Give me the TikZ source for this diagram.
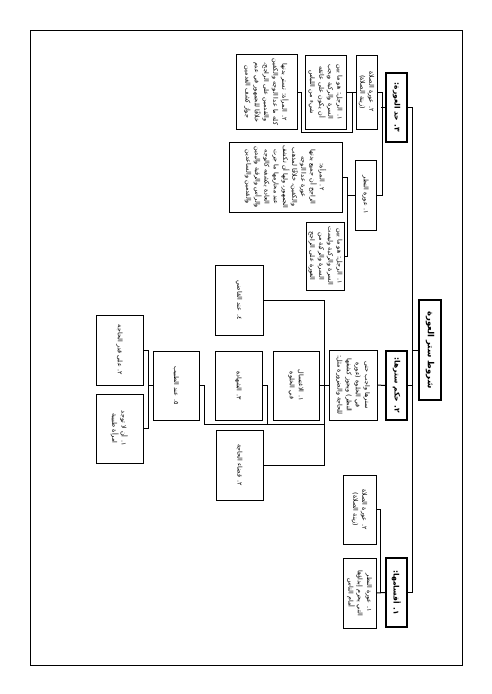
\documentclass[tikz,border=0pt]{standalone}
\usepackage{fontspec}
\usepackage{tikz}
\newfontfamily\arabicfont[Script=Arabic]{DejaVu Sans}
\TeXXeTstate=1
\newcommand{\ar}[1]{\beginR #1\endR}

\begin{document}
\begin{tikzpicture}[x=1pt,y=1pt,
  box/.style={draw, line width=1pt, rotate=-90, inner sep=1.5pt, align=center,
    font=\arabicfont\fontsize{6.4}{9.2}\selectfont},
  head/.style={box, line width=1.8pt, font=\arabicfont\bfseries\fontsize{7.5}{9}\selectfont},
  link/.style={line width=1pt}]
\useasboundingbox (0,0) rectangle (491,-694);
\draw[line width=0.9pt] (30,-30) rectangle (462,-665);

\node[head, minimum width=100, minimum height=22, font=\arabicfont\bfseries\fontsize{8.5}{10}\selectfont] (root) at (430,-350) {\ar{شروط ستر العورة}};
\node[head, minimum width=69, minimum height=21] (hadd) at (396.5,-107.5) {\ar{٣. حد العورة:}};
\node[head, minimum width=69, minimum height=21] (hukm) at (396.5,-385.5) {\ar{٢. حكم سترها:}};
\node[head, minimum width=69, minimum height=21] (qism) at (396.5,-592.5) {\ar{١. أقسامها:}};

\node[box, minimum width=70, minimum height=33, text width=62pt] (qnazar) at (359.5,-593) {\ar{١. عورة النظر التي يحرم إبداؤها أمام الناس}};
\node[box, minimum width=69, minimum height=33, text width=60pt] (qsalah) at (359.5,-509.5) {\ar{٢. عورة الصلاة (زينة الصلاة)}};

\node[box, minimum width=70, minimum height=48, text width=64pt] (satr) at (353,-385) {\ar{سترها واجب حتى في الخلوة (عورة النظر) ويجوز كشفها للحاجة والضرورة مثل:}};
\node[box, minimum width=69, minimum height=46, text width=50pt] (ightisal) at (296,-385.5) {\ar{١. الاغتسال في الخلوة}};
\node[box, minimum width=70, minimum height=48] (qadi) at (239,-300) {\ar{٤. عند القاضي}};
\node[box, minimum width=69, minimum height=47] (shahada) at (238.5,-385.5) {\ar{٣. الشهادة}};
\node[box, minimum width=70, minimum height=47] (qada) at (239.5,-465) {\ar{٢. قضاء الحاجة}};
\node[box, minimum width=69, minimum height=46] (tabib) at (176,-385.5) {\ar{٥. عند الطبيب}};
\node[box, minimum width=70, minimum height=47] (qadr) at (119.5,-350) {\ar{٢. على قدر الحاجة}};
\node[box, minimum width=69, minimum height=47, text width=52pt] (imraa) at (119.5,-428.5) {\ar{١. أن لا توجد امرأة طبيبة}};

\node[box, minimum width=74, minimum height=21, text width=68pt] (hsalah) at (366.5,-92) {\ar{٢. عورة الصلاة (زينة الصلاة)}};
\node[box, minimum width=70, minimum height=21] (hnazar) at (365.5,-195) {\ar{١. عورة النظر}};
\node[box, minimum width=74, minimum height=41, text width=68pt] (srajul) at (325.5,-92) {\ar{١. الرجل: هو ما بين السرة والركبة ويجب أن يكون على عاتقه شيء من اللباس}};
\node[box, minimum width=75, minimum height=61, text width=69pt] (smaraa) at (266.5,-92) {\ar{٢. المرأة: تستر بدنها كله ما عدا الوجه والكفين والقدمين على الراجح، خلافًا للجمهور في عدم جواز كشف القدمين}};
\node[box, minimum width=70, minimum height=113, text width=64pt] (nmaraa) at (285.5,-177) {\ar{٢. المرأة:}\\\ar{الراجح أن جميع بدنها عورة عدا الوجه والكفين، خلافًا لمذهب الجمهور، ولها أن تكشف عند محارمها ما جرت العادة بكشفه كالوجه والرأس والرقبة واليدين والقدمين والساعدين}};
\node[box, minimum width=68, minimum height=35, text width=62pt] (nrajul) at (325.5,-256) {\ar{١. الرجل: هو ما بين السرة والركبة وليست السرة والركبة من العورة على الراجح}};

\coordinate (spine) at (412,0);
\draw[link] (hadd.north) -- (hadd.north -| spine) -- (qism.north -| spine) -- (qism.north);
\draw[link] (root.south) -- (root.south -| spine);
\draw[link] (hukm.north) -- (hukm.north -| spine);

\draw[link] (qism.south) -- (qnazar.north);
\draw[link] (qism.south) -- ++(-5,0) |- (qsalah.north);

\coordinate (tr) at (324,0);
\coordinate (bus) at (0,-424);
\draw[link] (hukm.south) -- (satr.north);
\draw[link] (satr.south) -- (satr.south -| tr);
\draw[link] (qadi.north) -- (qadi.north -| tr) -- (qada.north -| tr) -- (qada.north);
\draw[link] (ightisal.north) -- (ightisal.north -| tr);
\draw[link] (shahada.north) -- ++(5,0) |- (bus -| tr);
\draw[link] (tabib.north) -- ++(5,0) |- (bus -| tr);
\draw[link] (tabib.south) -- ++(-5,0);
\draw[link] (qadr.north) -- ++(5,0) |- (imraa.north);

\coordinate (sbend) at (352,-132);
\draw[link] (hadd.south) -- ++(-4,0);
\draw[link] (hsalah.north) -- ++(5,0) |- (hnazar.north);
\draw[link] (hsalah.south) -- (srajul.north);
\draw[link] (smaraa.north) -- ++(4,0) |- (sbend) |- (srajul.north);
\draw[link] (hnazar.south) -- ++(-8,0);
\draw[link] (nmaraa.north) -- ++(5,0) |- (nrajul.north);
\end{tikzpicture}
\end{document}
